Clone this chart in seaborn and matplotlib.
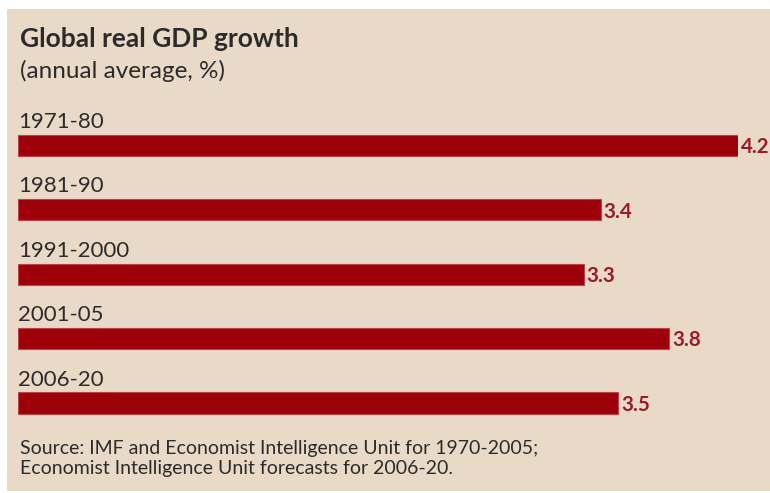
import matplotlib
matplotlib.use('Agg')
import matplotlib.pyplot as plt
from matplotlib.patches import Rectangle
import seaborn as sns
import pandas as pd

# Data
periods = ['1971-80', '1981-90', '1991-2000', '2001-05', '2006-20']
growth = [4.2, 3.4, 3.3, 3.8, 3.5]

title = 'Global real GDP growth'
subtitle = '(annual average, %)'
source = ('Source: IMF and Economist Intelligence Unit for 1970-2005;\n'
          'Economist Intelligence Unit forecasts for 2006-20.')

bg = '#E9DAC7'
bar_red = '#9E000A'
label_red = '#9B1A28'
text_col = '#2B2B2B'

sns.set_style('white')
plt.rcParams['font.family'] = ['Lato', 'DejaVu Sans']

W, H = 770, 493
fig = plt.figure(figsize=(W / 100, H / 100), dpi=100, facecolor='white')

# beige panel (small white margin at top/left like the scan)
fig.patches.append(Rectangle((7 / W, 2 / H), 1, 1 - 11 / H, transform=fig.transFigure,
                             facecolor=bg, edgecolor='none', zorder=-1))

ax = fig.add_axes([18 / W, 1 - 435.2 / H, 720 / W, 321.9 / H])
ax.set_facecolor('none')

df = pd.DataFrame({'period': periods, 'growth': growth})
sns.barplot(data=df, x='growth', y='period', orient='h', color=bar_red,
            saturation=1, width=0.33, linewidth=0.8, edgecolor='#B8434A', ax=ax)

ax.set_xlim(0, 4.2)
ax.set_ylim(4.5, -0.5)
ax.set_xlabel('')
ax.set_ylabel('')
ax.set_xticks([])
ax.set_yticks([])
sns.despine(ax=ax, left=True, bottom=True)

for i, (p, v) in enumerate(zip(periods, growth)):
    ax.text(0, i - 0.27, p, ha='left', va='baseline', fontsize=16,
            color=text_col, clip_on=False)
    ax.text(v + 0.017, i + 0.12, f'{v:.1f}', ha='left', va='baseline',
            fontsize=14.8, fontweight='bold', color=label_red, clip_on=False)

fig.text(20 / W, 1 - 47 / H, title, ha='left', va='baseline', fontsize=19,
         fontweight='bold', color=text_col)
fig.text(20 / W, 1 - 78 / H, subtitle, ha='left', va='baseline', fontsize=17.5,
         color=text_col)
fig.text(20 / W, 1 - 474 / H, source, ha='left', va='baseline', fontsize=14,
         color=text_col, linespacing=1.24)

fig.savefig('out.png', dpi=100, facecolor=fig.get_facecolor())
